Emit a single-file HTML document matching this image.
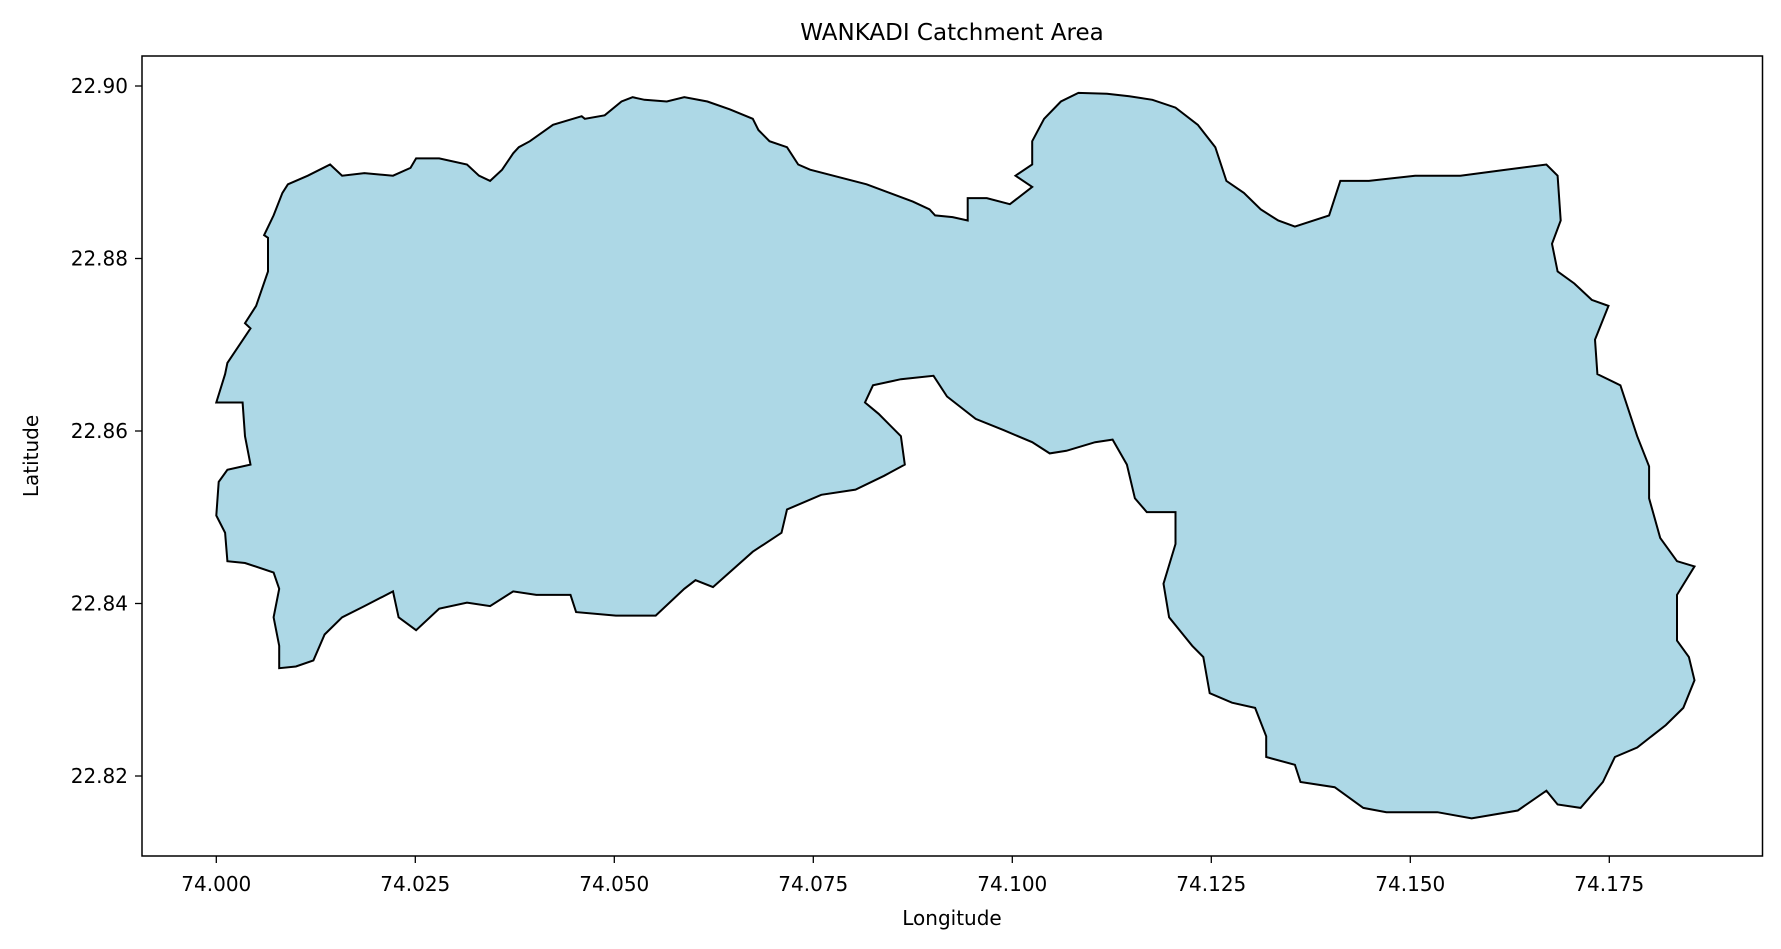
<!DOCTYPE html>
<html><head><meta charset="utf-8"><style>
html,body{margin:0;padding:0;background:#fff;}
svg{display:block;font-family:"DejaVu Sans","Liberation Sans",sans-serif;}
</style></head><body>
<svg id="chart" width="1781" height="949" viewBox="0 0 1781 949">
<rect x="0" y="0" width="1781" height="949" fill="#fff"/>
<text x="952" y="40" text-anchor="middle" font-size="23" fill="#000">WANKADI Catchment Area</text>
<g id="plot"></g>
<rect x="142" y="56" width="1620.5" height="800" fill="none" stroke="#000" stroke-width="1.5"/>
<g id="xticks"></g>
<g id="yticks"></g>
<text x="952" y="925" text-anchor="middle" font-size="20" fill="#000">Longitude</text>
<text transform="translate(38,456) rotate(-90)" text-anchor="middle" font-size="20" fill="#000">Latitude</text>
</svg>
<script>
const xTickValues=[74.000,74.025,74.050,74.075,74.100,74.125,74.150,74.175];
const xTickLabels=["74.000","74.025","74.050","74.075","74.100","74.125","74.150","74.175"];
const yTickValues=[22.82,22.84,22.86,22.88,22.90];
const yTickLabels=["22.82","22.84","22.86","22.88","22.90"];
const boundaryLon=[74.0000,74.0033,74.0036,74.0043,74.0014,74.0003,74.0000,74.0011,74.0014,74.0036,74.0072,74.0079,74.0072,74.0079,74.0079,74.0100,74.0122,74.0136,74.0158,74.0186,74.0222,74.0229,74.0251,74.0280,74.0315,74.0344,74.0373,74.0402,74.0445,74.0452,74.0502,74.0552,74.0588,74.0602,74.0624,74.0674,74.0710,74.0717,74.0760,74.0803,74.0839,74.0865,74.0860,74.0832,74.0815,74.0825,74.0860,74.0901,74.0918,74.0954,74.0989,74.1025,74.1047,74.1068,74.1104,74.1126,74.1144,74.1154,74.1169,74.1205,74.1205,74.1190,74.1197,74.1226,74.1240,74.1248,74.1276,74.1305,74.1319,74.1319,74.1355,74.1362,74.1405,74.1441,74.1470,74.1534,74.1577,74.1635,74.1671,74.1685,74.1714,74.1742,74.1757,74.1785,74.1821,74.1843,74.1857,74.1850,74.1835,74.1835,74.1857,74.1835,74.1814,74.1800,74.1800,74.1785,74.1764,74.1735,74.1732,74.1749,74.1728,74.1706,74.1685,74.1678,74.1689,74.1685,74.1671,74.1620,74.1563,74.1506,74.1448,74.1412,74.1398,74.1355,74.1334,74.1312,74.1291,74.1269,74.1255,74.1233,74.1205,74.1176,74.1147,74.1119,74.1083,74.1061,74.1040,74.1025,74.1025,74.1004,74.1025,74.0997,74.0968,74.0944,74.0944,74.0925,74.0903,74.0896,74.0875,74.0846,74.0817,74.0746,74.0731,74.0717,74.0695,74.0681,74.0674,74.0645,74.0617,74.0588,74.0566,74.0538,74.0523,74.0509,74.0488,74.0463,74.0459,74.0423,74.0394,74.0380,74.0373,74.0359,74.0344,74.0330,74.0315,74.0280,74.0251,74.0244,74.0222,74.0186,74.0158,74.0143,74.0115,74.0090,74.0083,74.0072,74.0060,74.0065,74.0065,74.0050,74.0036,74.0043,74.0014,74.0011];
const boundaryLat=[22.8633,22.8633,22.8594,22.8561,22.8555,22.8541,22.8502,22.8482,22.8449,22.8447,22.8436,22.8417,22.8384,22.8351,22.8325,22.8327,22.8334,22.8364,22.8384,22.8397,22.8414,22.8384,22.8369,22.8394,22.8401,22.8397,22.8414,22.8410,22.8410,22.8390,22.8386,22.8386,22.8417,22.8427,22.8419,22.8460,22.8482,22.8509,22.8526,22.8532,22.8548,22.8561,22.8594,22.8620,22.8633,22.8653,22.8660,22.8664,22.8640,22.8614,22.8601,22.8587,22.8574,22.8577,22.8587,22.8590,22.8561,22.8522,22.8506,22.8506,22.8469,22.8423,22.8384,22.8351,22.8338,22.8296,22.8285,22.8279,22.8246,22.8222,22.8213,22.8193,22.8187,22.8163,22.8158,22.8158,22.8151,22.8160,22.8183,22.8167,22.8163,22.8193,22.8222,22.8233,22.8259,22.8279,22.8311,22.8338,22.8357,22.8410,22.8443,22.8449,22.8476,22.8522,22.8559,22.8594,22.8653,22.8666,22.8706,22.8745,22.8752,22.8771,22.8785,22.8817,22.8844,22.8896,22.8909,22.8903,22.8896,22.8896,22.8890,22.8890,22.8850,22.8837,22.8844,22.8857,22.8876,22.8890,22.8929,22.8955,22.8975,22.8984,22.8988,22.8991,22.8992,22.8982,22.8962,22.8936,22.8909,22.8896,22.8883,22.8863,22.8870,22.8870,22.8844,22.8848,22.8850,22.8857,22.8866,22.8876,22.8886,22.8903,22.8909,22.8929,22.8936,22.8949,22.8962,22.8973,22.8982,22.8987,22.8982,22.8984,22.8987,22.8982,22.8966,22.8962,22.8965,22.8955,22.8936,22.8929,22.8922,22.8903,22.8890,22.8896,22.8909,22.8916,22.8916,22.8905,22.8896,22.8899,22.8896,22.8909,22.8896,22.8886,22.8876,22.8850,22.8827,22.8824,22.8785,22.8745,22.8725,22.8719,22.8679,22.8666,22.8640];
const X0=216.3,XS=199/0.025,Y0=86,YS=172.5/0.02;
function xScale(v){return X0+(v-74)*XS;}
function yScale(v){return Y0+(22.9-v)*YS;}
const NS="http://www.w3.org/2000/svg";
const plot=document.getElementById('plot');
let d=boundaryLon.map((lo,i)=>(i?'L':'M')+xScale(lo).toFixed(1)+','+yScale(boundaryLat[i]).toFixed(1)).join(' ')+' Z';
const poly=document.createElementNS(NS,'path');
poly.setAttribute('d',d);poly.setAttribute('fill','#add8e6');poly.setAttribute('stroke','#000');poly.setAttribute('stroke-width','2');poly.setAttribute('stroke-linejoin','miter');


plot.appendChild(poly);
const xg=document.getElementById('xticks');
xTickValues.forEach((v,i)=>{
 const x=xScale(v);
 const t=document.createElementNS(NS,'line');
 t.setAttribute('x1',x);t.setAttribute('x2',x);t.setAttribute('y1',856);t.setAttribute('y2',863);t.setAttribute('stroke','#000');t.setAttribute('stroke-width','1.3');
 
 
 xg.appendChild(t);
 const l=document.createElementNS(NS,'text');
 l.setAttribute('x',x);l.setAttribute('y',891);l.setAttribute('text-anchor','middle');l.setAttribute('font-size','20');
 l.textContent=xTickLabels[i];
 
 
 xg.appendChild(l);
});
const yg=document.getElementById('yticks');
yTickValues.forEach((v,i)=>{
 const y=yScale(v);
 const t=document.createElementNS(NS,'line');
 t.setAttribute('x1',135);t.setAttribute('x2',142);t.setAttribute('y1',y);t.setAttribute('y2',y);t.setAttribute('stroke','#000');t.setAttribute('stroke-width','1.3');
 
 
 yg.appendChild(t);
 const l=document.createElementNS(NS,'text');
 l.setAttribute('x',128);l.setAttribute('y',y+7);l.setAttribute('text-anchor','end');l.setAttribute('font-size','20');
 l.textContent=yTickLabels[i];
 
 
 yg.appendChild(l);
});
</script>
</body></html>
